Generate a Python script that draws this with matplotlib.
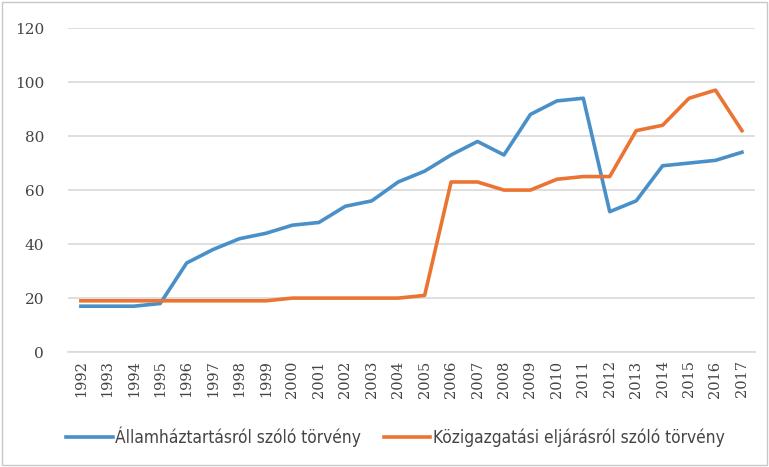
import numpy as np
import matplotlib.pyplot as plt
from matplotlib.patches import Rectangle

# Data
years = [str(y) for y in range(1992, 2018)]
allamhaztartas = [17, 17, 17, 18, 33, 38, 42, 44, 47, 48, 54, 56, 63, 67, 73,
                  78, 73, 88, 93, 94, 52, 56, 69, 70, 71, 74]
kozigazgatasi = [19, 19, 19, 19, 19, 19, 19, 19, 20, 20, 20, 20, 20, 21, 63,
                 63, 60, 60, 64, 65, 65, 82, 84, 94, 97, 82]
labels = ['Államháztartásról szóló törvény', 'Közigazgatási eljárásról szóló törvény']
yticks = [0, 20, 40, 60, 80, 100, 120]

fig = plt.figure(figsize=(7.69, 4.67), dpi=100)
ax = fig.add_axes([0.088, 0.246, 0.894, 0.694])

x = np.arange(len(years))
ax.plot(x, allamhaztartas, color='#4a90c8', lw=2.6, label=labels[0])
ax.plot(x, kozigazgatasi, color='#ec7432', lw=2.6, label=labels[1])

ax.set_xlim(-0.5, len(years) - 0.5)
ax.set_ylim(0, 120)
ax.set_yticks(yticks)
ax.set_xticks(x)
ax.set_xticklabels(years, rotation=90, fontsize=10.5, family='DejaVu Serif', color='#444444')
ax.tick_params(axis='y', labelsize=11, colors='#444444', length=0, pad=17)
ax.tick_params(axis='x', length=0, pad=6)
for lab in ax.get_yticklabels():
    lab.set_family('DejaVu Serif')
ax.grid(axis='y', color='#d9d9d9', lw=1.2)
ax.set_axisbelow(True)
for s in ['top', 'right', 'left']:
    ax.spines[s].set_visible(False)
ax.spines['bottom'].set_color('#d9d9d9')
ax.spines['bottom'].set_linewidth(1.2)

fig.legend(loc='center', bbox_to_anchor=(0.514, 0.065), ncol=2, frameon=False,
           prop={'family': 'DejaVu Sans', 'stretch': 'condensed', 'size': 12.4},
           handlelength=2.7, columnspacing=1.3, handletextpad=0.15, labelcolor='#444444')

fig.patches.append(Rectangle((0.002, 0.004), 0.995, 0.992, transform=fig.transFigure,
                             fill=False, edgecolor='#c8c8c8', lw=1))

plt.savefig('out.png', dpi=100)
